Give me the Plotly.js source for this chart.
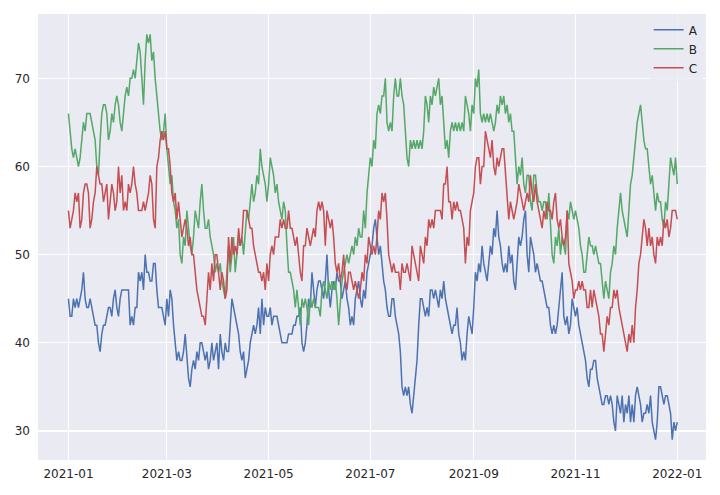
<!DOCTYPE html>
<html>
<head>
<meta charset="utf-8">
<script src="https://cdn.plot.ly/plotly-3.0.1.min.js"></script>
<style>
  html, body { margin: 0; padding: 0; background: #ffffff; }
  #chart { width: 720px; height: 495px; }
</style>
</head>
<body>
<div id="chart"></div>
<script>
// ---- data: one value per day, 2021-01-01 .. 2022-01-01 ----
const startDate = '2021-01-01';
const seriesNames = ['A', 'B', 'C'];
const tickLabels = ['2021-01', '2021-03', '2021-05', '2021-07', '2021-09', '2021-11', '2022-01'];
const tickDates = ['2021-01-01', '2021-03-01', '2021-05-01', '2021-07-01', '2021-09-01', '2021-11-01', '2022-01-01'];

const valuesA = [
  45, 43, 43, 45, 44, 45, 44, 45, 46, 48, 45, 44, 44, 45, 44, 43, 42, 42, 40, 39, 41, 42, 42, 43, 44, 44, 43, 45, 46, 44,
  43, 45, 46, 46, 46, 46, 46, 42, 43, 42, 44, 44, 48, 47, 48, 46, 50, 48, 48, 47, 47, 49, 49, 46, 44, 44, 44, 43, 42, 45, 43, 46, 45,
  42, 40, 38, 39, 38, 38, 39, 41, 38, 36, 35, 37, 38, 37, 39, 38, 40, 40, 39, 38, 39, 37, 38, 40, 38, 39, 40, 37, 41, 39, 38, 40, 39,
  39, 42, 45, 44, 43, 42, 41, 39, 38, 39, 36, 37, 38, 40, 41, 42, 41, 42, 44, 41, 45, 42, 44, 43, 43, 44, 42, 43, 43, 43, 42, 41, 40, 40, 40,
  40, 41, 41, 41, 42, 42, 43, 43, 44, 40, 39, 40, 42, 45, 44, 48, 46, 44, 46, 47, 47, 46, 45, 47, 50, 46, 44, 46, 47, 46, 48, 47, 47,
  45, 46, 47, 45, 44, 42, 43, 42, 45, 46, 47, 45, 44, 46, 45, 48, 49, 50, 51, 53, 54, 52, 50, 51, 49, 47, 46, 44, 43, 43, 45, 45, 43, 42,
  41, 39, 35, 34, 35, 34, 35, 33, 32, 34, 36, 38, 42, 45, 45, 44, 43, 44, 43, 46, 46, 45, 46, 45, 44, 46, 45, 47, 45, 44, 43, 42, 41, 42,
  42, 44, 41, 40, 38, 39, 38, 41, 43, 42, 41, 44, 48, 47, 49, 48, 51, 49, 48, 47, 49, 51, 50, 53, 52, 55, 52, 51, 49, 48, 49, 48, 51,
  49, 50, 47, 46, 49, 52, 51, 52, 54, 55, 50, 48, 52, 51, 50, 48, 49, 48, 47, 47, 46, 45, 44, 44, 42, 41, 42, 41, 42, 44, 46, 48, 43, 42,
  43, 41, 42, 45, 44, 43, 44, 42, 41, 40, 39, 38, 36, 35, 37, 37, 38, 38, 36, 35, 34, 33, 33, 34, 34, 33, 34, 33, 31, 30, 34, 33, 32,
  34, 31, 33, 32, 34, 31, 33, 31, 34, 35, 34, 33, 31, 32, 32, 33, 32, 34, 31, 30, 29, 31, 35, 35, 34, 33, 34, 34, 33, 32, 29, 31, 30, 31
];

const valuesB = [
  66, 64, 62, 61, 62, 61, 60, 61, 63, 65, 64, 66, 66, 66, 65, 64, 63, 60, 59, 63, 66, 67, 67, 66, 63, 64, 66, 65, 67, 68,
  67, 65, 64, 66, 68, 69, 68, 70, 70, 71, 70, 72, 74, 73, 70, 67, 72, 75, 74, 75, 72, 73, 70, 68, 66, 64, 63, 64, 66, 62, 60, 58, 59,
  56, 55, 53, 54, 50, 49, 52, 51, 55, 53, 51, 50, 52, 55, 54, 53, 56, 58, 55, 53, 53, 54, 52, 51, 50, 48, 49, 48, 49, 47, 46, 45, 48, 51,
  48, 50, 52, 48, 50, 52, 51, 52, 50, 53, 55, 54, 56, 58, 56, 57, 59, 58, 62, 60, 59, 58, 56, 58, 61, 60, 59, 57, 58, 56, 55, 54, 56, 55,
  51, 48, 48, 47, 46, 44, 46, 44, 42, 45, 44, 45, 44, 42, 45, 44, 45, 44, 44, 44, 43, 46, 47, 46, 45, 47, 46, 47, 46, 47, 45, 42, 45,
  47, 48, 49, 50, 49, 50, 51, 50, 52, 51, 53, 52, 52, 55, 53, 57, 59, 61, 60, 63, 62, 66, 67, 66, 68, 68, 70, 65, 64, 65, 64, 68, 70, 68,
  68, 70, 68, 67, 64, 61, 60, 63, 62, 63, 62, 63, 62, 63, 62, 64, 68, 67, 65, 68, 67, 69, 68, 69, 70, 67, 68, 65, 62, 63, 61, 64, 65, 64,
  65, 64, 65, 64, 65, 64, 68, 67, 66, 64, 67, 66, 70, 69, 71, 66, 65, 66, 65, 66, 65, 66, 65, 64, 65, 67, 66, 68, 67, 68, 66, 67, 65,
  66, 64, 64, 61, 58, 60, 59, 61, 58, 57, 59, 59, 56, 55, 59, 59, 57, 56, 56, 55, 56, 56, 54, 57, 54, 50, 49, 52, 51, 53, 50, 52, 51, 50,
  55, 54, 56, 55, 54, 55, 54, 53, 51, 50, 48, 48, 50, 52, 51, 51, 50, 51, 50, 49, 49, 47, 45, 47, 46, 45, 48, 49, 51, 50, 53, 55, 57,
  55, 54, 53, 52, 55, 58, 59, 61, 63, 65, 66, 67, 65, 63, 62, 62, 60, 58, 59, 57, 55, 57, 56, 56, 54, 53, 56, 55, 58, 61, 60, 59, 61, 58
];

const valuesC = [
  55, 53, 54, 55, 57, 56, 57, 53, 54, 57, 58, 58, 57, 53, 54, 56, 57, 60, 59, 58, 58, 56, 57, 58, 54, 56, 58, 57, 55, 56,
  60, 57, 59, 55, 56, 55, 58, 57, 58, 60, 58, 57, 55, 55, 55, 56, 55, 56, 57, 59, 58, 54, 53, 60, 61, 63, 64, 63, 64, 62, 62, 60, 57,
  56, 57, 54, 56, 54, 52, 53, 54, 53, 51, 52, 50, 50, 48, 46, 45, 44, 43, 43, 42, 45, 48, 46, 49, 47, 50, 50, 48, 46, 48, 47, 45, 46, 52,
  49, 52, 50, 51, 50, 53, 51, 52, 55, 55, 55, 54, 53, 53, 51, 50, 49, 48, 48, 47, 48, 46, 49, 47, 50, 51, 50, 52, 52, 52, 54, 53, 54, 53,
  53, 55, 53, 53, 52, 51, 52, 50, 48, 47, 51, 51, 53, 52, 51, 52, 53, 52, 55, 56, 55, 56, 55, 51, 55, 54, 53, 54, 52, 49, 48, 49, 47,
  48, 50, 47, 46, 48, 48, 47, 46, 47, 46, 45, 46, 48, 47, 50, 49, 52, 51, 50, 51, 50, 52, 55, 54, 57, 56, 57, 54, 50, 49, 48, 49, 48, 48,
  48, 46, 49, 48, 48, 49, 48, 47, 51, 50, 49, 48, 47, 51, 50, 49, 52, 51, 54, 53, 54, 53, 55, 55, 55, 55, 54, 58, 58, 60, 56, 56, 54, 56,
  55, 56, 55, 55, 54, 53, 49, 52, 51, 55, 56, 57, 60, 61, 61, 58, 60, 60, 64, 63, 62, 61, 63, 60, 59, 61, 60, 61, 62, 62, 59, 57, 54,
  56, 55, 54, 55, 56, 58, 57, 56, 55, 56, 57, 56, 59, 57, 56, 58, 56, 55, 54, 53, 55, 54, 56, 55, 55, 54, 56, 57, 54, 53, 54, 52, 51, 52,
  55, 49, 48, 47, 45, 46, 46, 47, 46, 47, 46, 46, 44, 44, 46, 44, 46, 45, 44, 43, 41, 41, 39, 41, 43, 42, 44, 44, 46, 45, 46, 44, 43,
  42, 41, 40, 39, 41, 40, 42, 40, 44, 46, 49, 50, 52, 54, 53, 51, 53, 51, 52, 50, 49, 52, 51, 52, 51, 54, 53, 54, 52, 53, 55, 55, 55, 54
];

// daily dates
function makeDates(start, n) {
  const out = [];
  const t0 = Date.parse(start + 'T00:00:00Z');
  for (let i = 0; i < n; i++) {
    out.push(new Date(t0 + i * 86400000).toISOString().slice(0, 10));
  }
  return out;
}
const dates = makeDates(startDate, valuesA.length);

const colors = ['#4c72b0', '#55a868', '#c44e52'];
const allValues = [valuesA, valuesB, valuesC];

const traces = allValues.map((vals, i) => ({
  type: 'scatter',
  mode: 'lines',
  name: seriesNames[i],
  x: dates,
  y: vals,
  line: { color: colors[i], width: 1.5 },
  hoverinfo: 'x+y+name'
}));

const fontFamily = 'DejaVu Sans, sans-serif';

const layout = {
  width: 720,
  height: 495,
  margin: { l: 38, r: 14, t: 14, b: 35, pad: 0 },
  paper_bgcolor: '#ffffff',
  plot_bgcolor: '#eaeaf2',
  font: { family: fontFamily, size: 12, color: '#262626' },
  showlegend: true,
  legend: {
    x: 0.995, y: 0.997, xanchor: 'right', yanchor: 'top',
    bgcolor: 'rgba(234,234,242,0.8)',
    borderwidth: 0,
    font: { family: fontFamily, size: 12, color: '#262626' },
    tracegroupgap: 0
  },
  xaxis: {
    type: 'date',
    range: ['2020-12-13 18:00', '2022-01-18 06:00'],
    tickmode: 'array',
    tickvals: tickDates,
    ticktext: tickLabels,
    showgrid: true,
    gridcolor: '#ffffff',
    gridwidth: 1.2,
    zeroline: false,
    showline: false,
    ticks: '',
    ticklen: 0,
    ticklabelstandoff: 5,
    tickfont: { family: fontFamily, size: 12, color: '#262626' }
  },
  yaxis: {
    range: [26.7, 77.3],
    tickmode: 'array',
    tickvals: [30, 40, 50, 60, 70],
    ticktext: ['30', '40', '50', '60', '70'],
    showgrid: true,
    gridcolor: '#ffffff',
    gridwidth: 1.2,
    zeroline: false,
    showline: false,
    ticks: '',
    ticklen: 0,
    ticklabelstandoff: 7,
    tickfont: { family: fontFamily, size: 12, color: '#262626' }
  }
};

Plotly.newPlot('chart', traces, layout, { displayModeBar: false, staticPlot: true });
</script>
</body>
</html>
